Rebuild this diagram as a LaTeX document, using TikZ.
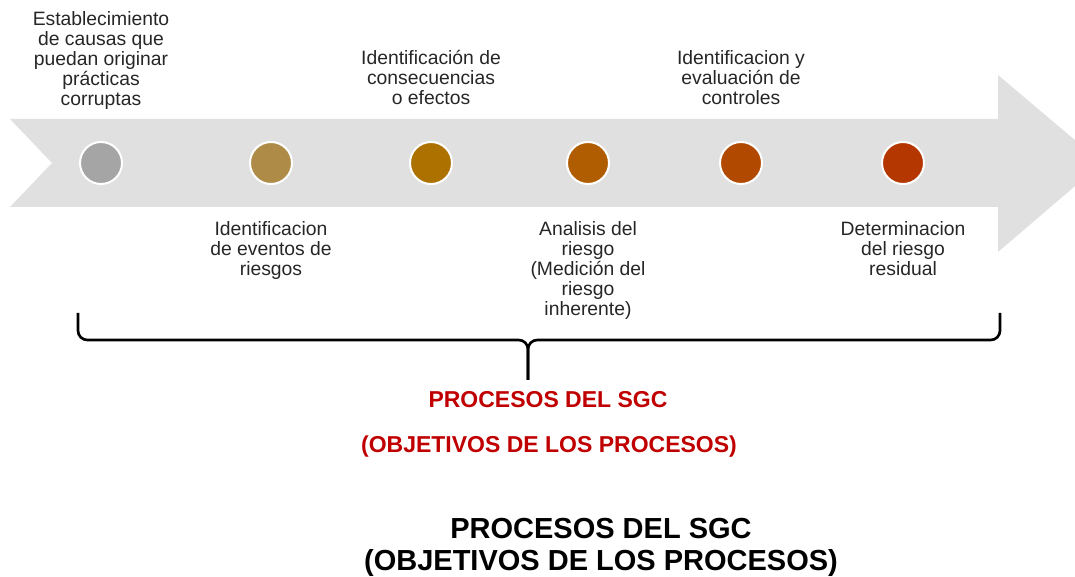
\documentclass[tikz,border=0pt]{standalone}
\usepackage{fontspec}
\setmainfont{Liberation Sans}
\usepackage{xcolor}
\usepackage{tikz}
\definecolor{flechagris}{RGB}{224,224,224}
\definecolor{paso1}{RGB}{165,165,165}
\definecolor{paso2}{RGB}{174,139,71}
\definecolor{paso3}{RGB}{173,113,0}
\definecolor{paso4}{RGB}{176,92,0}
\definecolor{paso5}{RGB}{178,73,0}
\definecolor{paso6}{RGB}{180,54,0}
\definecolor{rojosgc}{RGB}{192,0,0}
\tikzset{
  punto/.style={circle,draw=white,line width=1.5pt,minimum size=31.5pt,inner sep=0pt},
  etiqueta/.style={align=center,inner sep=0pt,text=black!85,font=\fontsize{14.5}{15}\selectfont},
  llave/.style={line width=2pt,rounded corners=7pt}
}

\begin{document}
\begin{tikzpicture}[x=0.75pt,y=-0.75pt]
\clip (0,0) rectangle (1075,577);

\fill[flechagris] (10,119) -- (998,119) -- (998,75) -- (1102,163) -- (998,252)
  -- (998,207) -- (10,207) -- (52,163) -- cycle;

\node[punto,fill=paso1] (P1) at (101,163) {};
\node[punto,fill=paso2] (P2) at (271,163) {};
\node[punto,fill=paso3] (P3) at (431,163) {};
\node[punto,fill=paso4] (P4) at (588,163) {};
\node[punto,fill=paso5] (P5) at (741,163) {};
\node[punto,fill=paso6] (P6) at (903,163) {};

\node[etiqueta,anchor=north] (T1) at (101,11) {Establecimiento\\de causas que\\puedan originar\\prácticas\\corruptas};
\node[etiqueta,anchor=north] (T3) at (431,50) {Identificación de\\consecuencias\\o efectos};
\node[etiqueta,anchor=north] (T5) at (741,50) {Identificacion y\\evaluación de\\controles};
\node[etiqueta,anchor=north] (T2) at (271,221) {Identificacion\\de eventos de\\riesgos};
\node[etiqueta,anchor=north] (T4) at (588,221) {Analisis del\\riesgo\\(Medición del\\riesgo\\inherente)};
\node[etiqueta,anchor=north] (T6) at (903,221) {Determinacion\\del riesgo\\residual};

\coordinate (LI) at (78,313);
\coordinate (LD) at (1000,313);
\coordinate (LM) at (528,380);
\draw[llave] (LI) -- (78,340) -- (528,340) -- (LM);
\draw[llave] (LD) -- (1000,340) -- (528,340) -- (LM);

\node[text=rojosgc,font=\fontsize{17.25}{20}\bfseries] (R1) at (548,400) {PROCESOS DEL SGC};
\node[text=rojosgc,font=\fontsize{17.25}{20}\bfseries] (R2) at (549,447) {(OBJETIVOS DE LOS PROCESOS)};

\node[align=center,font=\fontsize{21.75}{24}\bfseries] (N) at (601,547) {PROCESOS DEL SGC\\(OBJETIVOS DE LOS PROCESOS)};

\end{tikzpicture}
\end{document}
